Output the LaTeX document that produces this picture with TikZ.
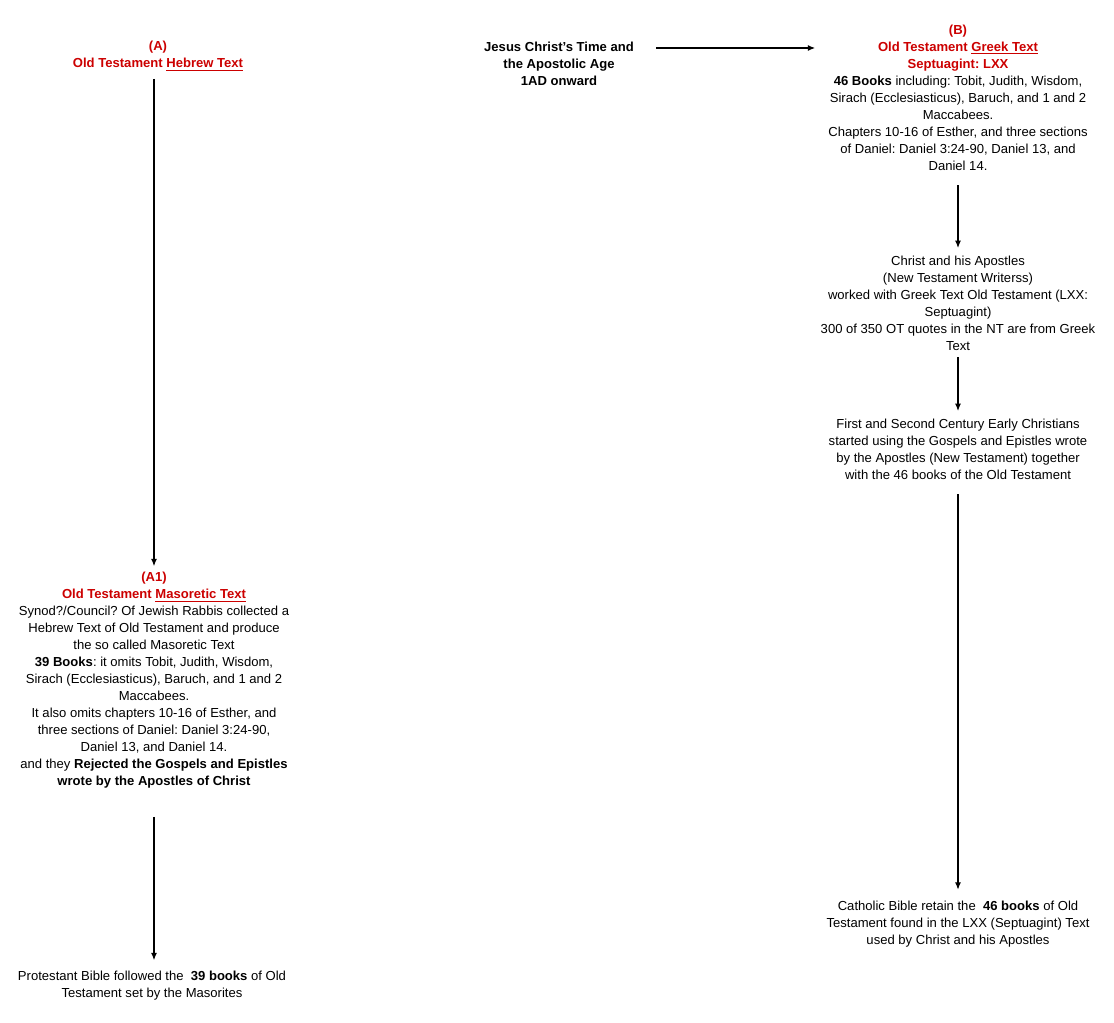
\documentclass[tikz,border=0pt]{standalone}
\usepackage{fontspec}
\setmainfont{Liberation Sans}
\usetikzlibrary{arrows.meta,calc}
\definecolor{ttlred}{HTML}{CC0000}
\newdimen\px \px=0.75pt
\frenchspacing
\begin{document}
\begin{tikzpicture}[x=0.75pt,y=-0.75pt,
  txt/.style={align=center,inner sep=0pt,font=\fontsize{9.8}{12.75}\selectfont\frenchspacing},
  arr/.style={-{Latex[length=5.5pt,width=4.5pt]},line width=0.8pt}]
\useasboundingbox[fill=white] (0,0) rectangle (1114,1023);

\node[txt] (A) at (158,56) {\textcolor{ttlred}{\textbf{(A)}}\\
\textcolor{ttlred}{\textbf{Old Testament \underline{Hebrew Text}}}};

\node[txt] (A1) at (154,680.5) {\textcolor{ttlred}{\textbf{(A1)}}\\
\textcolor{ttlred}{\textbf{Old Testament \underline{Masoretic Text}}}\\
Synod?/Council? Of Jewish Rabbis collected a\\
Hebrew Text of Old Testament and produce\\
the so called Masoretic Text\\
\textbf{39 Books}: it omits Tobit, Judith, Wisdom,\\
Sirach (Ecclesiasticus), Baruch, and 1 and 2\\
Maccabees.\\
It also omits chapters 10-16 of Esther, and\\
three sections of Daniel: Daniel 3:24-90,\\
Daniel 13, and Daniel 14.\\
and they \textbf{Rejected the Gospels and Epistles}\\
\textbf{wrote by the Apostles of Christ}};

\node[txt] (P) at (152,986) {Protestant Bible followed the \ \textbf{39 books} of Old\\
Testament set by the Masorites};

\node[txt] (J) at (559,64) {\textbf{Jesus Christ's Time and}\\
\textbf{the Apostolic Age}\\
\textbf{1AD onward}};

\node[txt] (B) at (958,98) {\textcolor{ttlred}{\textbf{(B)}}\\
\textcolor{ttlred}{\textbf{Old Testament \underline{Greek Text}}}\\
\textcolor{ttlred}{\textbf{Septuagint: LXX}}\\
\textbf{46 Books} including: Tobit, Judith, Wisdom,\\
Sirach (Ecclesiasticus), Baruch, and 1 and 2\\
Maccabees.\\
Chapters 10-16 of Esther, and three sections\\
of Daniel: Daniel 3:24-90, Daniel 13, and\\
Daniel 14.};

\node[txt] (C) at (958,303.5) {Christ and his Apostles\\
(New Testament Writerss)\\
worked with Greek Text Old Testament (LXX:\\
Septuagint)\\
300 of 350 OT quotes in the NT are from Greek\\
Text};

\node[txt] (F) at (958,449.5) {First and Second Century Early Christians\\
started using the Gospels and Epistles wrote\\
by the Apostles (New Testament) together\\
with the 46 books of the Old Testament};

\node[txt] (K) at (958,924) {Catholic Bible retain the \ \textbf{46 books} of Old\\
Testament found in the LXX (Septuagint) Text\\
used by Christ and his Apostles};

\coordinate (jy) at (0,48);
\draw[arr] ($(A.south -| A1.north)+(0,8)$) -- ($(A1.north)+(0,-6)$);
\draw[arr] ($(A1.south)+(0,28)$) -- ($(A1.south |- P.north)+(0,-11)$);
\draw[arr,shorten <=22\px,shorten >=13\px] (J.east |- jy) -- (B.west |- jy);
\draw[arr] ($(B.south)+(0,14)$) -- ($(C.north)+(0,-8)$);
\draw[arr] ($(C.south)+(0,6)$) -- ($(F.north)+(0,-8)$);
\draw[arr] ($(F.south)+(0,14)$) -- ($(K.north)+(0,-11)$);
\end{tikzpicture}
\end{document}
